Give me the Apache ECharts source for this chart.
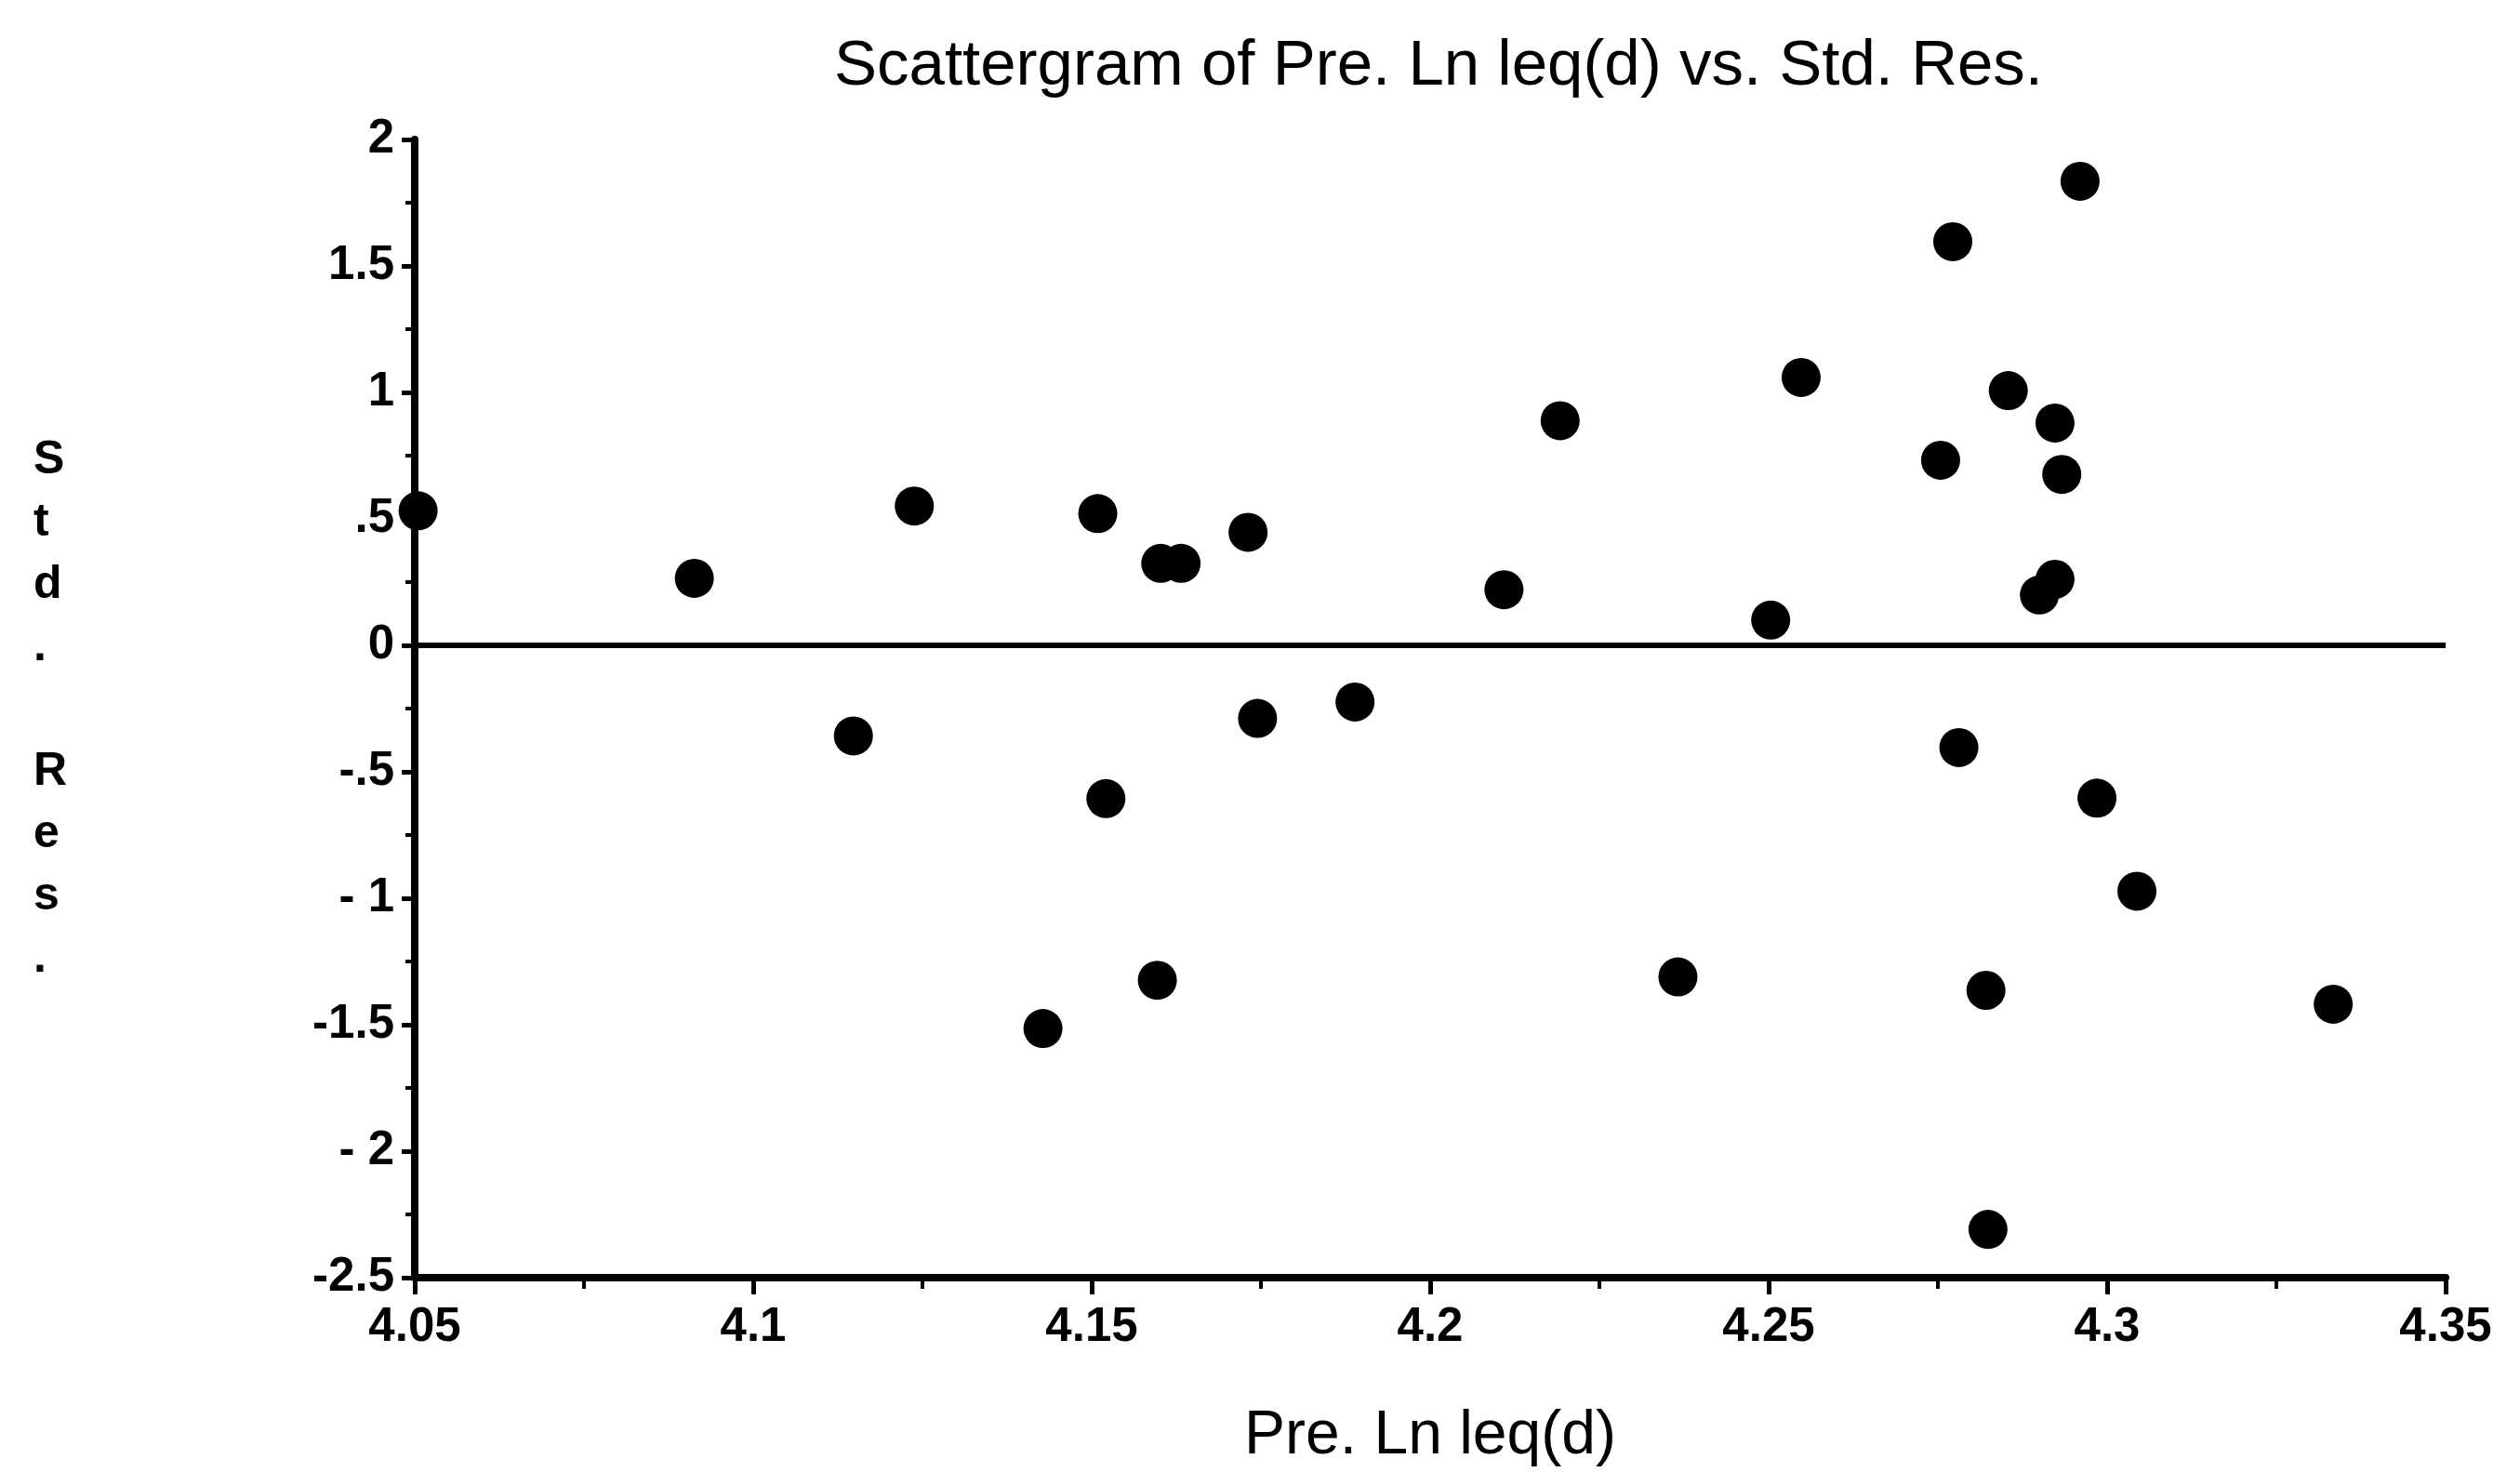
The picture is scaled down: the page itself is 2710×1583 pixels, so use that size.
<!DOCTYPE html>
<html>
<head>
<meta charset="utf-8">
<script src="https://cdn.jsdelivr.net/npm/echarts@6/dist/echarts.min.js"></script>
<style>
html,body{margin:0;padding:0;background:#fff;}
#chart{width:2710px;height:1583px;}
</style>
</head>
<body>
<div id="chart"></div>
<script>
// Data
const preLnLeq = [4.0505, 4.0913, 4.1148, 4.1238, 4.1428, 4.1509, 4.1521, 4.1597, 4.1602, 4.1632,
  4.1731, 4.1745, 4.1889, 4.2109, 4.2192, 4.2366, 4.2503, 4.2548, 4.2754, 4.2772,
  4.2781, 4.2821, 4.2824, 4.2854, 4.2900, 4.2923, 4.2923, 4.2933, 4.2960, 4.2985,
  4.3044, 4.3334];
const stdRes = [0.532, 0.265, -0.358, 0.551, -1.515, 0.521, -0.606, -1.324, 0.324, 0.324,
  0.447, -0.289, -0.224, 0.220, 0.888, -1.311, 0.100, 1.059, 0.732, 1.596,
  -0.404, -1.364, -2.309, 1.007, 0.199, 0.879, 0.261, 0.676, 1.835, -0.604,
  -0.972, -1.419];
const xTickValues = [4.05, 4.1, 4.15, 4.2, 4.25, 4.3, 4.35];
const xTickLabels = ['4.05', '4.1', '4.15', '4.2', '4.25', '4.3', '4.35'];
const yTickValues = [2, 1.5, 1, 0.5, 0, -0.5, -1, -1.5, -2, -2.5];
const yTickLabels = ['2', '1.5', '1', '.5', '0', '-.5', '- 1', '-1.5', '- 2', '-2.5'];
const titleText = 'Scattergram of Pre. Ln leq(d) vs. Std. Res.';
const xName = 'Pre. Ln leq(d)';
const yNameChars = ['S', 't', 'd', '.', '', 'R', 'e', 's', '.'];

function lookup(values, labels, v) {
  for (let i = 0; i < values.length; i++) {
    if (Math.abs(values[i] - v) < 1e-6) return labels[i];
  }
  return '';
}

const points = preLnLeq.map((x, i) => [x, stdRes[i]]);
const FONT = '"Liberation Sans", Arial, Helvetica, sans-serif';

const chart = echarts.init(document.getElementById('chart'), null, {renderer: 'canvas'});
chart.setOption({
  backgroundColor: '#ffffff',
  animation: false,
  title: {
    text: titleText,
    left: 892,
    top: 32,
    textStyle: {fontFamily: FONT, fontSize: 69, fontWeight: 'normal', color: '#000'}
  },
  grid: {left: 446, right: 80, top: 150, bottom: 209, containLabel: false},
  xAxis: {
    type: 'value',
    min: 4.05,
    max: 4.35,
    interval: 0.05,
    name: xName,
    nameLocation: 'middle',
    nameGap: 138,
    nameTextStyle: {fontFamily: FONT, fontSize: 66, color: '#000'},
    axisLine: {show: true, onZero: false, lineStyle: {color: '#000', width: 8}},
    axisTick: {show: true, inside: false, length: 18, lineStyle: {color: '#000', width: 5}},
    minorTick: {show: true, splitNumber: 2, length: 12, lineStyle: {color: '#000', width: 4}},
    axisLabel: {
      margin: 28,
      fontFamily: FONT, fontSize: 51, fontWeight: 'bold', color: '#000',
      formatter: v => lookup(xTickValues, xTickLabels, v)
    },
    splitLine: {show: false}
  },
  yAxis: {
    type: 'value',
    min: -2.5,
    max: 2,
    interval: 0.5,
    axisLine: {show: true, onZero: false, lineStyle: {color: '#000', width: 8}},
    axisTick: {show: true, inside: false, length: 14, lineStyle: {color: '#000', width: 5}},
    minorTick: {show: true, splitNumber: 2, length: 10, lineStyle: {color: '#000', width: 4}},
    axisLabel: {
      margin: 22,
      fontFamily: FONT, fontSize: 51, fontWeight: 'bold', color: '#000',
      formatter: v => lookup(yTickValues, yTickLabels, v)
    },
    splitLine: {show: false}
  },
  graphic: [{
    type: 'text',
    left: 36,
    top: 462,
    style: {
      text: yNameChars.join('\n'),
      font: 'bold 50px ' + FONT,
      fill: '#000',
      align: 'center',
      lineHeight: 67
    }
  }],
  series: [{
    type: 'scatter',
    data: points,
    symbol: 'circle',
    symbolSize: 42,
    itemStyle: {color: '#000', opacity: 1},
    markLine: {
      silent: true,
      symbol: ['none', 'none'],
      label: {show: false},
      lineStyle: {color: '#000', width: 6, type: 'solid'},
      data: [{yAxis: 0}]
    }
  }]
});
</script>
</body>
</html>
